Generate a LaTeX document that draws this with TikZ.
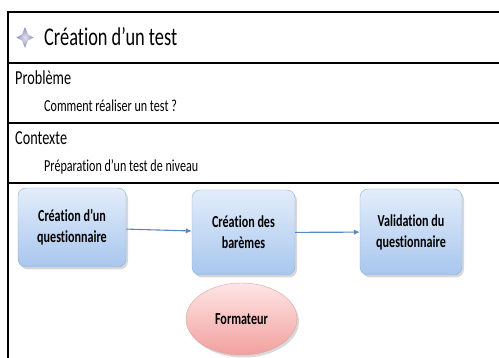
\documentclass[tikz,border=0pt]{standalone}
\usepackage{fontspec}
\setmainfont{Carlito}[FakeStretch=0.72, Ligatures=NoCommon]
\usetikzlibrary{arrows.meta,shadows,shapes.geometric}
\definecolor{boxline}{HTML}{8FB1DD}
\definecolor{boxtop}{HTML}{E3EDFA}
\definecolor{boxbot}{HTML}{A8C6EE}
\definecolor{ellline}{HTML}{DBA3A1}
\definecolor{elltop}{HTML}{FDE6E5}
\definecolor{ellbot}{HTML}{F2A09E}
\definecolor{flecheblue}{HTML}{5B87C0}
\definecolor{etoile}{HTML}{8C8CBE}
\tikzset{
	etape/.style={rounded corners=8pt, draw=boxline, top color=boxtop, bottom color=boxbot,
		align=center, inner sep=0pt, font=\bfseries\fontsize{16.8}{21}\selectfont,
		drop shadow={shadow xshift=2pt, shadow yshift=-2.5pt, fill=black!30}},
	acteur/.style={ellipse, draw=ellline, top color=elltop, bottom color=ellbot,
		inner sep=0pt, font=\bfseries\fontsize{16.8}{21}\selectfont,
		drop shadow={shadow xshift=2pt, shadow yshift=-2.5pt, fill=black!30}},
	fleche/.style={draw=flecheblue, line width=1.1pt, -{Latex[length=6pt,width=5.5pt]}},
	regle/.style={line width=2pt},
}
\begin{document}
\begin{tikzpicture}[x=1pt,y=-1pt]
				\useasboundingbox (0,0) rectangle (499,358);
				% cadre
				\draw[regle] (8,358) -- (8,12);
				\foreach \y in {12,63,123,183}
				\draw[regle] (7,\y) -- (499,\y);
				% titre et rubriques
				\shade[inner color=etoile!25, outer color=etoile]
				(25,27) -- (28,34.5) -- (33.5,37.5) -- (28,40.5) -- (25,48) -- (22,40.5) -- (16.5,37.5) -- (22,34.5) -- cycle;
				\node[anchor=base west, inner sep=0pt, font=\fontsize{25.5}{30}\selectfont] (titre) at (44,46) {Création d’un test};
				\node[anchor=base west, inner sep=0pt, font=\fontsize{19.8}{24}\selectfont] (pb) at (15,85) {Problème};
				\node[anchor=base west, inner sep=0pt, font=\fontsize{16.8}{20}\selectfont] (pbtxt) at (44,112) {Comment réaliser un test ?};
				\node[anchor=base west, inner sep=0pt, font=\fontsize{19.8}{24}\selectfont] (ctx) at (15,145) {Contexte};
				\node[anchor=base west, inner sep=0pt, font=\fontsize{16.8}{20}\selectfont] (ctxtxt) at (44,172) {Préparation d’un test de niveau};
				% processus
				\node[etape, minimum width=108pt, minimum height=79pt] (Q) at (72,227.5) {Création d’un\\questionnaire};
				\node[etape, minimum width=103pt, minimum height=85pt] (B) at (243.5,232.5) {Création des\\barèmes};
				\node[etape, minimum width=102pt, minimum height=86pt] (V) at (411,232) {Validation du\\questionnaire};
				\node[acteur, minimum width=111pt, minimum height=72pt] (F) at (241.5,319) {Formateur};
				\draw[fleche] (Q) -- (B);
				\draw[fleche] (B) -- (V);
\end{tikzpicture}
\end{document}
